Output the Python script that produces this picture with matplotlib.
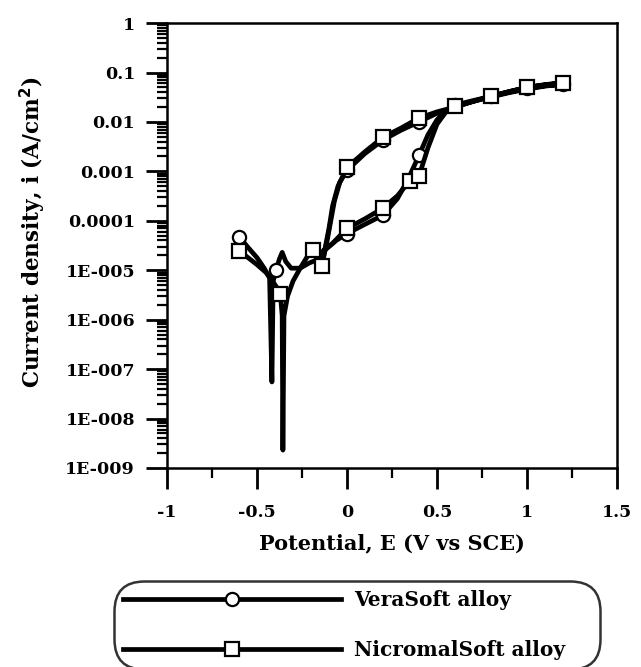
import matplotlib
matplotlib.use("Agg")
import matplotlib.pyplot as plt
import numpy as np
from matplotlib.lines import Line2D
from matplotlib.ticker import FixedLocator, FixedFormatter, LogLocator, NullFormatter, MultipleLocator

# Cyclic polarisation curves (potential in V vs SCE, current density in A/cm2)
vera_E = [-0.60, -0.55, -0.50, -0.46, -0.43, -0.417, -0.41, -0.395, -0.375, -0.36,
          -0.34, -0.31, -0.26, -0.21, -0.17, -0.12, -0.06, 0.00, 0.10, 0.20,
          0.28, 0.34, 0.40, 0.45, 0.50, 0.55, 0.60, 0.70, 0.80, 0.90,
          1.00, 1.10, 1.20, 1.10, 1.00, 0.90, 0.80, 0.70, 0.60, 0.50,
          0.40, 0.30, 0.20, 0.10, 0.00, -0.04, -0.07, -0.09, -0.11, -0.13]
vera_i = [4.8e-5, 2.9e-5, 1.8e-5, 1.1e-5, 7e-6, 5.5e-8, 6e-6, 1.0e-5, 1.7e-5, 2.3e-5,
          1.5e-5, 1.1e-5, 1.1e-5, 1.4e-5, 1.6e-5, 2.6e-5, 4e-5, 5.5e-5, 8.5e-5, 1.3e-4,
          2.8e-4, 7e-4, 2.1e-3, 5.5e-3, 1.1e-2, 1.7e-2, 2.2e-2, 2.7e-2, 3.3e-2, 4.0e-2,
          4.8e-2, 5.4e-2, 5.8e-2, 5.3e-2, 4.6e-2, 3.9e-2, 3.2e-2, 2.6e-2, 2.0e-2, 1.5e-2,
          1.0e-2, 6.8e-3, 4.3e-3, 2.3e-3, 1.05e-3, 6e-4, 2.5e-4, 1.0e-4, 4e-5, 1.8e-5]
vera_marks = [0, 7, 17, 19, 22, 26, 28, 30, 32, 40, 42, 44]

nicromal_E = [-0.60, -0.55, -0.50, -0.45, -0.42, -0.39, -0.37, -0.36, -0.356, -0.35,
              -0.33, -0.30, -0.26, -0.22, -0.19, -0.15, -0.08, 0.00, 0.10, 0.20,
              0.28, 0.35, 0.40, 0.45, 0.50, 0.55, 0.60, 0.70, 0.80, 0.90,
              1.00, 1.10, 1.20, 1.10, 1.00, 0.90, 0.80, 0.70, 0.60, 0.50,
              0.40, 0.30, 0.20, 0.10, 0.00, -0.05, -0.08, -0.10, -0.12, -0.14]
nicromal_i = [2.5e-5, 1.8e-5, 1.3e-5, 9e-6, 6.5e-6, 4.5e-6, 3.3e-6, 1.2e-6, 2.3e-9, 1.2e-6,
              3e-6, 6e-6, 1.1e-5, 1.9e-5, 2.6e-5, 2.2e-5, 3.5e-5, 7e-5, 1.1e-4, 1.8e-4,
              3.2e-4, 6.5e-4, 8e-4, 3e-3, 9e-3, 1.6e-2, 2.1e-2, 2.6e-2, 3.3e-2, 4.1e-2,
              5.0e-2, 5.7e-2, 6.2e-2, 5.6e-2, 5.0e-2, 4.1e-2, 3.3e-2, 2.6e-2, 2.0e-2, 1.6e-2,
              1.2e-2, 7.5e-3, 4.9e-3, 2.5e-3, 1.2e-3, 5e-4, 2e-4, 7e-5, 3e-5, 1.2e-5]
nicromal_marks = [0, 6, 14, 17, 19, 21, 22, 26, 28, 30, 32, 40, 42, 44, 49]

series_labels = ["VeraSoft alloy", "NicromalSoft alloy"]

x_ticks = [-1, -0.5, 0, 0.5, 1, 1.5]
x_tick_labels = ["-1", "-0.5", "0", "0.5", "1", "1.5"]
y_ticks = [1e-9, 1e-8, 1e-7, 1e-6, 1e-5, 1e-4, 1e-3, 1e-2, 1e-1, 1]
y_tick_labels = ["1E-009", "1E-008", "1E-007", "1E-006", "1E-005",
                 "0.0001", "0.001", "0.01", "0.1", "1"]

FONT = "DejaVu Serif"
plt.rcParams["font.family"] = [FONT]
plt.rcParams["font.weight"] = "bold"
plt.rcParams["mathtext.default"] = "bf"

fig = plt.figure(figsize=(6.41, 6.67), dpi=100)
ax = fig.add_axes([0.2605, 0.2984, 0.702, 0.667])

line_kw = dict(color="black", lw=3.4, markersize=9.5, markerfacecolor="white",
               markeredgecolor="black", markeredgewidth=1.6)
ax.plot(vera_E, vera_i, marker="o", markevery=vera_marks, **line_kw)
ax.plot(nicromal_E, nicromal_i, marker="s", markevery=nicromal_marks, **line_kw)

ax.set_yscale("log")
ax.set_xlim(-1, 1.5)
ax.set_ylim(1e-9, 1)

ax.xaxis.set_major_locator(FixedLocator(x_ticks))
ax.xaxis.set_major_formatter(FixedFormatter(x_tick_labels))
ax.xaxis.set_minor_locator(MultipleLocator(0.25))
ax.yaxis.set_major_locator(FixedLocator(y_ticks))
ax.yaxis.set_major_formatter(FixedFormatter(y_tick_labels))
ax.yaxis.set_minor_locator(LogLocator(base=10, subs=np.arange(2, 10), numticks=30))
ax.yaxis.set_minor_formatter(NullFormatter())

for side in ax.spines.values():
    side.set_linewidth(1.8)
ax.tick_params(which="major", direction="out", length=15, width=2.0,
               labelsize=12.5)
ax.tick_params(axis="x", which="major", pad=11)
ax.tick_params(axis="y", which="major", pad=8)
ax.tick_params(which="minor", direction="out", length=7, width=1.6)
for lab in ax.get_xticklabels() + ax.get_yticklabels():
    lab.set_fontweight("bold")

ax.set_xlabel("Potential, E (V vs SCE)", fontsize=15, fontweight="bold", labelpad=9)
ax.set_ylabel("Current density, i (A/cm$^{2}$)", fontsize=15.5,
              fontweight="bold", labelpad=9)
ax.yaxis.set_label_coords(-0.265, 0.53)

handles = [
    Line2D([], [], color="black", lw=3.4, marker="o", markersize=9.5,
           markerfacecolor="white", markeredgecolor="black", markeredgewidth=1.6),
    Line2D([], [], color="black", lw=3.4, marker="s", markersize=9.5,
           markerfacecolor="white", markeredgecolor="black", markeredgewidth=1.6),
]
leg = fig.legend(handles, series_labels, loc="upper left",
                 bbox_to_anchor=(114 / 641, 0.0, 486 / 641, 0.129), mode="expand",
                 ncol=1, numpoints=1,
                 handlelength=10.8, handletextpad=0.65, labelspacing=1.5,
                 borderpad=0.45, borderaxespad=0.0, fancybox=True, frameon=True,
                 prop={"family": FONT, "weight": "bold", "size": 14.5})
frame = leg.get_frame()
frame.set_edgecolor("black")
frame.set_linewidth(1.8)
frame.set_boxstyle("round", pad=0.0, rounding_size=1.5)

fig.savefig("out.png", dpi=100)
